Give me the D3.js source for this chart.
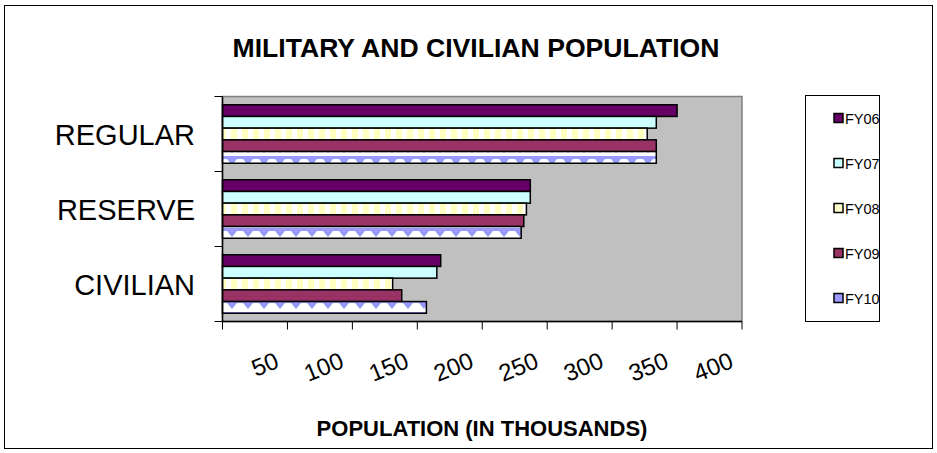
<!DOCTYPE html>
<html>
<head>
<meta charset="utf-8">
<script src="https://cdn.jsdelivr.net/npm/d3@7"></script>
<style>
  html, body { margin: 0; padding: 0; background: #ffffff; }
  svg { display: block; font-family: "Liberation Sans", Arial, sans-serif; }
</style>
</head>
<body>
<svg id="chart" width="937" height="453"></svg>
<script>
const categories = ["REGULAR", "RESERVE", "CIVILIAN"];
const seriesNames = ["FY06", "FY07", "FY08", "FY09", "FY10"];
const fy06 = [350, 237, 168];
const fy07 = [334, 237, 165];
const fy08 = [327, 234, 131];
const fy09 = [334, 232, 138];
const fy10 = [334, 230, 157];
const xTickValues = [0, 50, 100, 150, 200, 250, 300, 350, 400];
const xTickLabels = ["", "50", "100", "150", "200", "250", "300", "350", "400"];

const seriesValues = [fy06, fy07, fy08, fy09, fy10];
const fills = ["#660066", "#ccffff", "url(#p08)", "#993366", "url(#p10)"];
const swatch = ["#660066", "#ccffff", "#ffffcc", "#993366", "#9999ff"];

const svg = d3.select("#chart");
const defs = svg.append("defs");

const p08 = defs.append("pattern").attr("id", "p08").attr("patternUnits", "userSpaceOnUse")
  .attr("width", 11).attr("height", 12);
p08.append("rect").attr("width", 11).attr("height", 12).attr("fill", "#ffffff");
p08.append("rect").attr("x", 0).attr("width", 6).attr("height", 12).attr("fill", "#ffffc0");

const p10 = defs.append("pattern").attr("id", "p10").attr("patternUnits", "userSpaceOnUse")
  .attr("width", 16).attr("height", 12);
p10.append("rect").attr("width", 16).attr("height", 12).attr("fill", "#ffffff");
p10.append("path").attr("d", "M0,0H16V3H13L8,9L3,3H0Z").attr("fill", "#9999ff");

svg.append("rect").attr("x", 4.5).attr("y", 5.5).attr("width", 928).attr("height", 443)
  .attr("fill", "none").attr("stroke", "#000").attr("stroke-width", 1);

const plot = { left: 222.5, right: 742, top: 96.5, bottom: 321.5 };

const x = d3.scaleLinear().domain([0, 400]).range([plot.left, plot.right]);
const y = d3.scaleBand().domain(categories).range([plot.top, plot.bottom])
  .paddingInner(0.22).paddingOuter(0.11);
const ySub = d3.scaleBand().domain(seriesNames).range([0, y.bandwidth()]);

svg.append("rect").attr("x", plot.left).attr("y", plot.top)
  .attr("width", plot.right - plot.left).attr("height", plot.bottom - plot.top)
  .attr("fill", "#c0c0c0").attr("stroke", "#808080").attr("stroke-width", 1.5);

seriesNames.forEach((s, si) => {
  svg.append("g").selectAll("rect").data(categories).join("rect")
    .attr("x", x(0))
    .attr("y", (c) => y(c) + ySub(s))
    .attr("width", (c, i) => x(seriesValues[si][i]) - x(0))
    .attr("height", ySub.bandwidth())
    .attr("fill", fills[si])
    .attr("stroke", "#000").attr("stroke-width", 1.5);
});

const yAxisG = svg.append("g");
yAxisG.append("line").attr("x1", plot.left).attr("x2", plot.left)
  .attr("y1", plot.top).attr("y2", plot.bottom).attr("stroke", "#000").attr("stroke-width", 1.5);
const boundaries = [plot.top, plot.top + (plot.bottom - plot.top) / 3, plot.top + 2 * (plot.bottom - plot.top) / 3, plot.bottom];
yAxisG.selectAll("line.t").data(boundaries).join("line").attr("class", "t")
  .attr("x1", plot.left - 8).attr("x2", plot.left).attr("y1", (d) => d).attr("y2", (d) => d)
  .attr("stroke", "#000").attr("stroke-width", 1);
yAxisG.selectAll("text").data(categories).join("text")
  .attr("x", 195).attr("y", (c) => y(c) + y.bandwidth() / 2 + 10.5)
  .attr("text-anchor", "end").attr("font-size", 29).attr("fill", "#000").text((c) => c);

const xAxisG = svg.append("g");
xAxisG.append("line").attr("x1", plot.left).attr("x2", plot.right)
  .attr("y1", plot.bottom).attr("y2", plot.bottom).attr("stroke", "#000").attr("stroke-width", 1.5);
xAxisG.selectAll("line.t").data(xTickValues).join("line").attr("class", "t")
  .attr("x1", (d) => x(d)).attr("x2", (d) => x(d)).attr("y1", plot.bottom).attr("y2", plot.bottom + 8)
  .attr("stroke", "#000").attr("stroke-width", 1);
xAxisG.selectAll("text").data(xTickValues).join("text")
  .attr("transform", (d) => `translate(${x(d) - 7},367) rotate(-22)`)
  .attr("text-anchor", "end").attr("font-size", 24).attr("fill", "#000")
  .text((d, i) => xTickLabels[i]);

svg.append("text").attr("x", 476).attr("y", 57).attr("text-anchor", "middle")
  .attr("font-size", 26).attr("font-weight", "bold").attr("fill", "#000")
  .attr("textLength", 487).attr("lengthAdjust", "spacingAndGlyphs")
  .text("MILITARY AND CIVILIAN POPULATION");
svg.append("text").attr("x", 482).attr("y", 436).attr("text-anchor", "middle")
  .attr("font-size", 22).attr("font-weight", "bold").attr("fill", "#000")
  .text("POPULATION (IN THOUSANDS)");

const lg = svg.append("g");
lg.append("rect").attr("x", 805.5).attr("y", 95.5).attr("width", 74).attr("height", 226)
  .attr("fill", "#fff").attr("stroke", "#000").attr("stroke-width", 1);
const legendY = [118, 163, 208, 253, 298];
const items = lg.selectAll("g.item").data(seriesNames).join("g").attr("class", "item")
  .attr("transform", (d, i) => `translate(834,${legendY[i]})`);
items.append("rect").attr("x", 0).attr("y", -4.5).attr("width", 9).attr("height", 9)
  .attr("fill", (d, i) => swatch[i]).attr("stroke", "#000").attr("stroke-width", 1.5);
items.append("text").attr("x", 11).attr("y", 5.5).attr("font-size", 14.5).attr("fill", "#000")
  .text((d) => d);
</script>
</body>
</html>
